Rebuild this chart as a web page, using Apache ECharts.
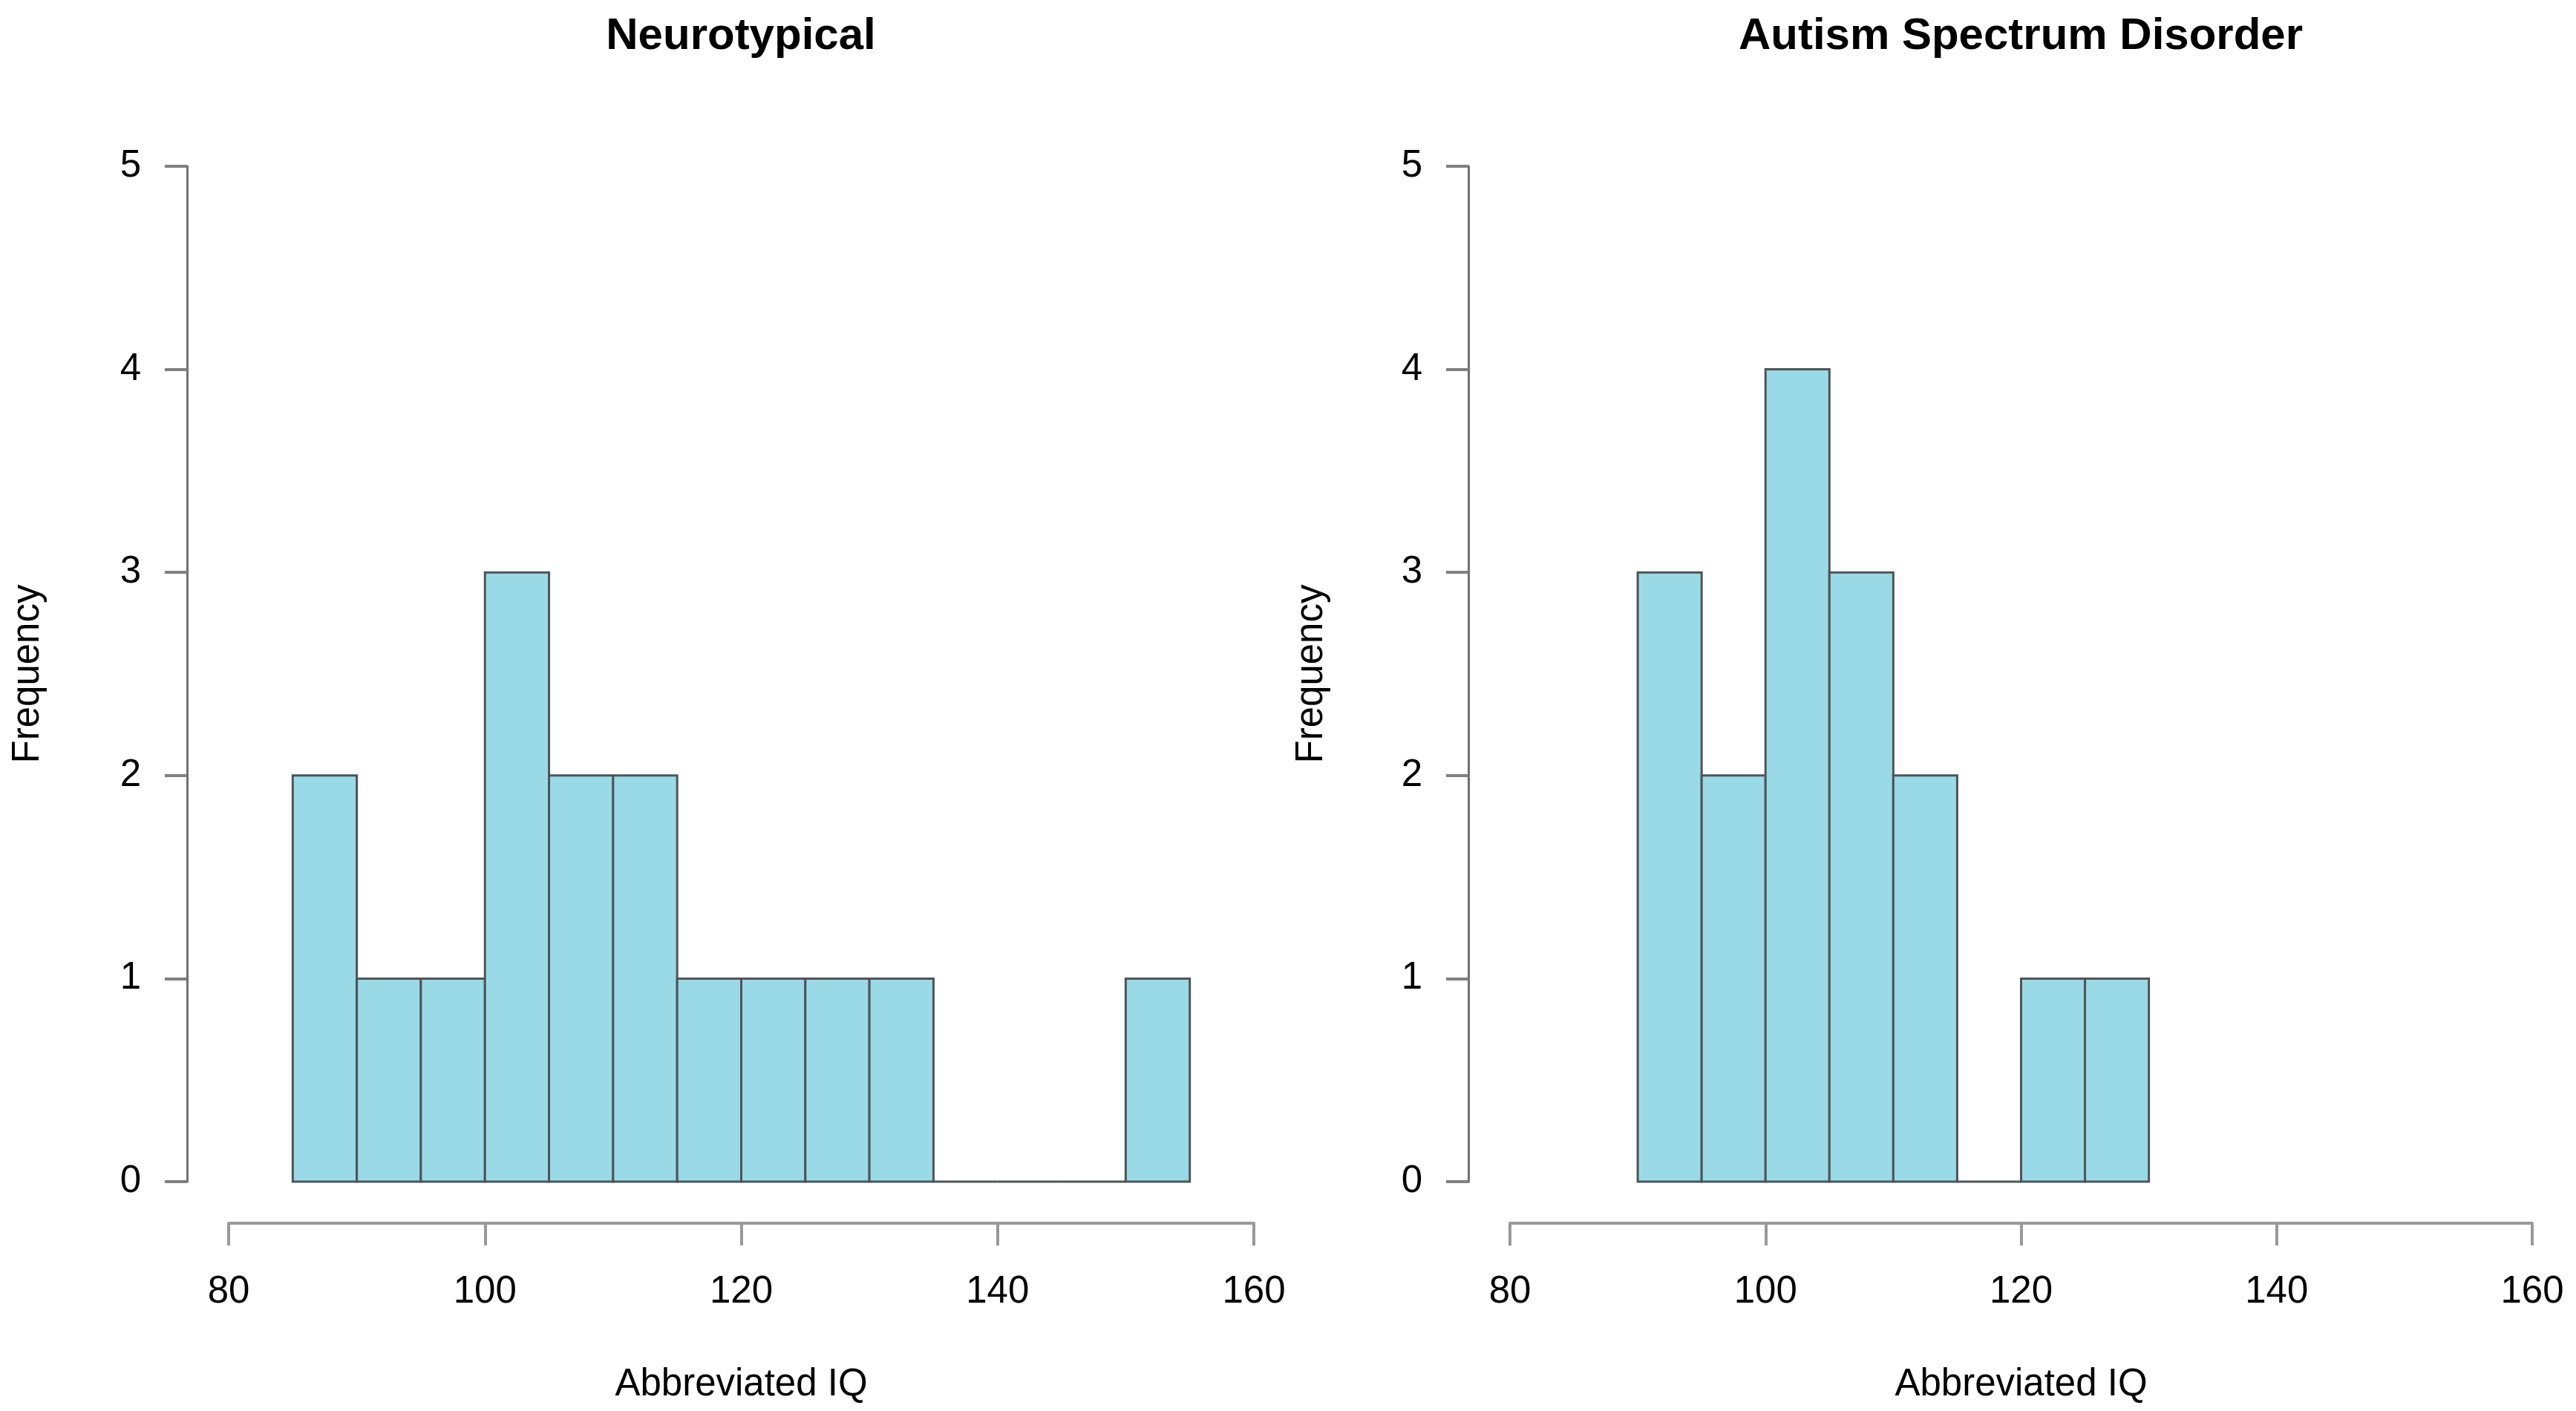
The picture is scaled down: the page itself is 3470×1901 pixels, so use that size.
<!DOCTYPE html>
<html>
<head>
<meta charset="utf-8">
<script src="https://cdn.jsdelivr.net/npm/echarts@6/dist/echarts.min.js"></script>
<style>
html,body{margin:0;padding:0;background:#fff;}
#chart{width:3470px;height:1901px;}
</style>
</head>
<body>
<div id="chart"></div>
<script>
// Histogram bins (width 5)
var ntBinStarts = [85, 90, 95, 100, 105, 110, 115, 120, 125, 130, 135, 140, 145, 150];
var ntCounts    = [2, 1, 1, 3, 2, 2, 1, 1, 1, 1, 0, 0, 0, 1];
var asdBinStarts = [90, 95, 100, 105, 110, 115, 120, 125];
var asdCounts    = [3, 2, 4, 3, 2, 0, 1, 1];
var binWidth = 5;
var xTicks = [80, 100, 120, 140, 160];
var yTicks = [0, 1, 2, 3, 4, 5];
var titles = ['Neurotypical', 'Autism Spectrum Disorder'];
var xLabel = 'Abbreviated IQ';
var yLabel = 'Frequency';

function toData(starts, counts) {
  return starts.map(function (s, i) { return [s, s + binWidth, counts[i]]; });
}

var FONT = 'Liberation Sans, Arial, sans-serif';
var fill = '#9adae6';
var edge = '#4d5558';

function renderItem(params, api) {
  var p0 = api.coord([api.value(0), api.value(2)]);
  var p1 = api.coord([api.value(1), 0]);
  return {
    type: 'rect',
    shape: { x: p0[0], y: p0[1], width: p1[0] - p0[0], height: p1[1] - p0[1] },
    style: { fill: fill, stroke: edge, lineWidth: 3 }
  };
}

var grids = [
  { left: 308, top: 224, width: 1381, height: 1368 },
  { left: 2034, top: 224, width: 1377, height: 1368 }
];

function xAxisFor(i) {
  return {
    type: 'value', gridIndex: i, min: 80, max: 160, interval: 20,
    position: 'bottom', offset: 56,
    axisLine: { show: true, onZero: false, lineStyle: { color: '#999', width: 4 } },
    axisTick: { show: true, length: 30, lineStyle: { color: '#999', width: 4 } },
    axisLabel: { fontFamily: FONT, fontSize: 51, color: '#000', margin: 93, verticalAlign: 'middle',
      customValues: xTicks },
    splitLine: { show: false },
    name: xLabel, nameLocation: 'middle', nameGap: 218,
    nameTextStyle: { fontFamily: FONT, fontSize: 51, color: '#000', verticalAlign: 'middle' }
  };
}
function yAxisFor(i) {
  return {
    type: 'value', gridIndex: i, min: 0, max: 5, interval: 1,
    position: 'left', offset: 56,
    axisLine: { show: true, onZero: false, lineStyle: { color: '#707070', width: 3 } },
    axisTick: { show: true, length: 30, lineStyle: { color: '#808080', width: 4 } },
    axisLabel: { fontFamily: FONT, fontSize: 51, color: '#000', margin: 62, align: 'right' },
    splitLine: { show: false },
    name: yLabel, nameLocation: 'middle', nameGap: i === 0 ? 214 : 211,
    nameTextStyle: { fontFamily: FONT, fontSize: 51, color: '#000', verticalAlign: 'middle' }
  };
}

var option = {
  backgroundColor: '#fff',
  animation: false,
  grid: grids,
  xAxis: [xAxisFor(0), xAxisFor(1)],
  yAxis: [yAxisFor(0), yAxisFor(1)],
  graphic: [
    { type: 'text', x: 998, y: 49, style: { text: titles[0], font: 'bold 60px ' + FONT, fill: '#000', textAlign: 'center', textVerticalAlign: 'middle' } },
    { type: 'text', x: 2722, y: 49, style: { text: titles[1], font: 'bold 60px ' + FONT, fill: '#000', textAlign: 'center', textVerticalAlign: 'middle' } }
  ],
  series: [
    { type: 'custom', xAxisIndex: 0, yAxisIndex: 0, renderItem: renderItem, data: toData(ntBinStarts, ntCounts), clip: false },
    { type: 'custom', xAxisIndex: 1, yAxisIndex: 1, renderItem: renderItem, data: toData(asdBinStarts, asdCounts), clip: false }
  ]
};

var chart = echarts.init(document.getElementById('chart'), null, { renderer: 'canvas' });
chart.setOption(option);
</script>
</body>
</html>
